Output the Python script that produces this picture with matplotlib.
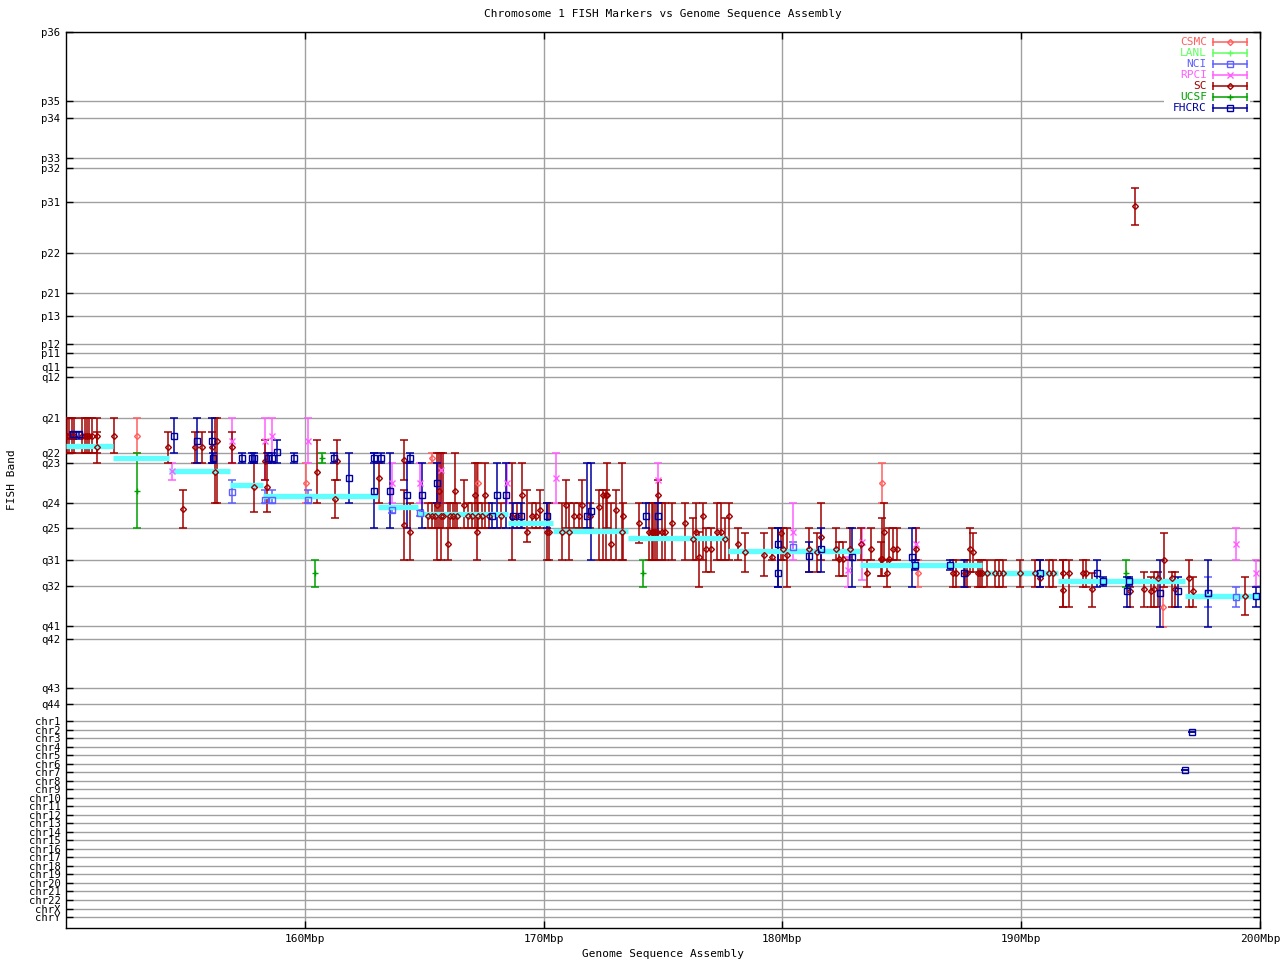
# Chromosome 1 FISH markers vs genome sequence assembly
import matplotlib
matplotlib.use('Agg')
import matplotlib.pyplot as plt
from matplotlib.patches import Rectangle
import numpy as np

# band ticks on the y axis (ideogram coordinate, top -> bottom)
band_names = ['p36', 'p35', 'p34', 'p33', 'p32', 'p31', 'p22', 'p21', 'p13', 'p12',
              'p11', 'q11', 'q12', 'q21', 'q22', 'q23', 'q24', 'q25', 'q31', 'q32',
              'q41', 'q42', 'q43', 'q44',
              'chr1', 'chr2', 'chr3', 'chr4', 'chr5', 'chr6', 'chr7', 'chr8', 'chr9',
              'chr10', 'chr11', 'chr12', 'chr13', 'chr14', 'chr15', 'chr16', 'chr17',
              'chr18', 'chr19', 'chr20', 'chr21', 'chr22', 'chrX', 'chrY']
band_pos = [32, 101, 118, 158, 168, 202, 253, 293, 316, 344,
            353, 367, 377, 418, 453, 463, 503, 528, 560, 586,
            626, 639, 688, 704,
            721, 729.5, 738, 746.6, 755, 763.6, 772, 780.6, 789,
            797.7, 806, 814.7, 823, 831.8, 840, 848.9, 857,
            866, 874, 883, 891, 900, 908.5, 917]

# x ticks (Mbp)
x_ticks = [160, 170, 180, 190, 200]
x_labels = ['160Mbp', '170Mbp', '180Mbp', '190Mbp', '200Mbp']

# assembly band segments (start Mbp, end Mbp, band position)
asm_start = [150.0, 151.97, 154.3, 156.87, 158.25, 163.07, 164.74, 168.51, 170.39,
             173.53, 177.72, 183.25, 188.36, 191.54, 196.86]
asm_end = [151.97, 154.3, 156.87, 158.25, 163.07, 164.74, 168.51, 170.39, 173.53,
           177.72, 183.25, 188.36, 191.54, 196.86, 200.0]
asm_band = [446, 458, 471, 485, 496, 507, 514, 523, 531, 538, 551, 565, 573, 581, 596]

# FISH markers per source: (Mbp, band, band low, band high)
csmc = [(152.97, 436, 418, 453), (160.05, 483, 463, 503), (165.33, 458, 453, 463),
        (167.25, 483, 463, 503), (184.17, 483, 463, 503), (185.68, 573, 560, 587),
        (195.94, 607, 587, 627)]

lanl = []

nci = [(156.95, 492, 480, 503), (158.33, 500, 490, 503), (158.63, 500, 490, 503),
       (160.13, 500, 490, 503), (163.65, 510, 507, 513), (164.82, 513, 510, 516),
       (180.44, 547, 542, 553), (197.82, 593, 577, 607), (199.0, 597, 587, 607)]

rpci = [(154.44, 471, 463, 480), (156.95, 441, 418, 463), (158.33, 441, 418, 480),
        (158.63, 436, 418, 463), (160.13, 441, 418, 463), (163.65, 483, 463, 503),
        (164.82, 483, 463, 503), (165.7, 470, 453, 503), (168.47, 483, 463, 503),
        (170.52, 478, 453, 503), (174.79, 480, 463, 503), (180.44, 532, 503, 560),
        (182.75, 570, 557, 587), (183.33, 542, 528, 580), (185.6, 544, 528, 560),
        (199.0, 544, 528, 560), (199.83, 573, 560, 587)]

sc = [(150.04, 436, 418, 453), (150.13, 436, 418, 453), (150.25, 436, 418, 453),
      (150.33, 436, 418, 453), (150.67, 436, 418, 453), (150.80, 436, 418, 453),
      (150.88, 436, 418, 453), (150.96, 436, 418, 453), (151.09, 436, 418, 453),
      (151.30, 436, 418, 453), (151.30, 447, 432, 463), (152.00, 436, 418, 453),
      (154.27, 447, 432, 463), (154.90, 509, 490, 528), (155.40, 447, 432, 463),
      (155.70, 447, 432, 463), (156.11, 447, 432, 463), (156.24, 472, 418, 503),
      (156.32, 441, 418, 503), (156.95, 447, 432, 463), (157.87, 487, 463, 512),
      (158.33, 461, 440, 480), (158.42, 487, 453, 512), (160.51, 472, 440, 503),
      (161.26, 499, 480, 518), (161.35, 461, 440, 480),
      (163.10, 478, 463, 503), (164.15, 460, 440, 480), (164.15, 525, 490, 560),
      (164.40, 532, 503, 560), (165.54, 505, 453, 560), (165.62, 491, 453, 528),
      (165.70, 516, 453, 560), (165.79, 516, 453, 528), (166.00, 544, 503, 560),
      (166.29, 491, 453, 528), (166.67, 505, 480, 528), (167.13, 495, 463, 528),
      (167.21, 532, 463, 560), (167.55, 495, 463, 528),
      (165.16, 516, 503, 528), (165.33, 516, 503, 528), (165.45, 516, 503, 528),
      (166.08, 516, 503, 528), (166.21, 516, 503, 528), (166.37, 516, 503, 528),
      (166.83, 516, 503, 528), (167.00, 516, 503, 528), (167.25, 516, 503, 528),
      (167.42, 516, 503, 528), (167.70, 516, 503, 528), (168.20, 516, 503, 528),
      (168.90, 516, 503, 528), (169.50, 516, 503, 528),
      (168.68, 517, 463, 560), (169.10, 495, 463, 528), (169.30, 532, 490, 542),
      (169.68, 516, 503, 528), (169.85, 510, 490, 528), (170.14, 532, 503, 560),
      (170.23, 532, 503, 560), (170.77, 532, 503, 560), (170.94, 505, 480, 528),
      (171.06, 532, 503, 560), (171.27, 516, 503, 528), (171.48, 516, 503, 528),
      (171.60, 505, 480, 528), (171.94, 516, 503, 528), (172.32, 507, 490, 560),
      (172.49, 495, 490, 560), (172.61, 495, 490, 560), (172.65, 495, 463, 528),
      (172.82, 544, 503, 560), (173.03, 510, 490, 560), (173.28, 532, 463, 560),
      (173.32, 516, 503, 560), (174.00, 523, 503, 543), (174.41, 532, 503, 560),
      (174.58, 532, 503, 560), (174.75, 532, 503, 560),
      (174.54, 532, 503, 560), (174.66, 532, 503, 560), (174.96, 532, 503, 560),
      (175.08, 532, 503, 560), (174.79, 495, 480, 503), (175.38, 523, 503, 560),
      (175.92, 523, 503, 560), (176.26, 539, 518, 560), (176.38, 532, 503, 560),
      (176.51, 557, 532, 587), (176.68, 516, 503, 560), (176.80, 549, 528, 572),
      (177.01, 549, 528, 572), (177.26, 532, 503, 560), (177.43, 532, 503, 560),
      (177.60, 539, 518, 560), (177.76, 516, 503, 560), (178.14, 544, 528, 560),
      (178.43, 552, 533, 572), (179.23, 555, 533, 576), (179.56, 557, 528, 560),
      (179.94, 533, 528, 560), (180.03, 549, 528, 560), (180.19, 555, 528, 587),
      (181.11, 549, 528, 572), (181.45, 552, 533, 572), (181.62, 537, 503, 560),
      (182.24, 549, 528, 560), (182.37, 559, 542, 576), (182.54, 559, 542, 576),
      (182.83, 549, 528, 560), (183.29, 544, 528, 560), (183.54, 573, 560, 587),
      (183.71, 549, 528, 560), (184.13, 559, 542, 576), (184.17, 559, 518, 576),
      (184.25, 532, 503, 560), (184.38, 573, 560, 587), (184.46, 559, 528, 560),
      (184.63, 549, 528, 560), (184.80, 549, 528, 560), (185.60, 549, 528, 560),
      (187.14, 573, 560, 587), (187.27, 573, 560, 587), (187.65, 573, 560, 587),
      (187.73, 573, 560, 587),
      (187.86, 549, 528, 572), (187.98, 552, 533, 572), (188.19, 573, 560, 587),
      (188.27, 573, 560, 587), (188.36, 573, 560, 587), (188.57, 573, 560, 587),
      (188.90, 573, 560, 587), (189.07, 573, 560, 587), (189.24, 573, 560, 587),
      (189.95, 573, 560, 587), (190.58, 573, 560, 587), (190.79, 578, 560, 587),
      (191.16, 573, 560, 587), (191.33, 573, 560, 587), (191.75, 573, 560, 607),
      (191.75, 590, 560, 607), (192.00, 573, 560, 607), (192.59, 573, 560, 587),
      (192.71, 573, 560, 587), (192.96, 589, 573, 607), (194.56, 591, 587, 607),
      (195.14, 589, 572, 607), (195.44, 591, 577, 607), (195.56, 589, 572, 607),
      (195.73, 578, 572, 607), (195.98, 560, 533, 587), (196.31, 578, 572, 607),
      (196.44, 589, 572, 607), (197.03, 578, 560, 607), (197.19, 591, 577, 607),
      (199.37, 596, 577, 615), (194.77, 206, 188, 225)]

ucsf = [(152.97, 491, 453, 528), (160.43, 573, 560, 587), (160.72, 458, 453, 463),
        (174.16, 573, 560, 587), (194.39, 573, 560, 587)]

fhcrc = [(150.29, 434, 432, 439), (150.54, 434, 432, 439), (154.52, 436, 418, 453),
         (155.49, 441, 418, 463), (156.11, 441, 418, 463), (156.16, 458, 453, 463),
         (157.37, 458, 453, 463), (157.79, 458, 453, 463), (157.87, 458, 453, 463),
         (158.46, 458, 453, 463), (158.63, 458, 453, 463), (158.84, 452, 440, 463),
         (159.55, 458, 453, 463), (161.22, 458, 453, 463), (161.85, 478, 453, 503),
         (162.90, 458, 453, 463), (162.90, 491, 453, 528), (163.19, 458, 453, 463),
         (163.57, 491, 453, 528), (164.28, 495, 463, 528), (164.40, 458, 453, 463),
         (164.91, 495, 463, 528), (165.54, 483, 463, 503), (167.84, 516, 503, 528),
         (168.05, 495, 463, 528), (168.43, 495, 463, 528), (168.72, 516, 503, 528),
         (169.05, 516, 503, 528), (170.14, 516, 503, 528), (171.82, 516, 463, 528),
         (171.99, 511, 463, 560), (174.29, 516, 503, 528), (174.79, 516, 503, 540),
         (179.82, 544, 528, 587), (179.82, 573, 528, 587), (181.11, 556, 542, 572),
         (181.62, 549, 528, 572), (182.92, 557, 528, 587), (185.43, 557, 528, 587),
         (185.56, 565, 560, 570), (187.02, 565, 560, 570), (187.60, 573, 560, 587),
         (190.79, 573, 560, 587), (193.17, 573, 560, 587), (193.43, 581, 577, 586),
         (194.43, 591, 577, 607), (194.52, 581, 577, 586), (195.81, 593, 560, 627),
         (196.57, 591, 577, 607), (197.82, 593, 560, 627), (199.83, 596, 587, 607),
         (197.15, 732, 732, 732), (196.86, 770, 770, 770)]

sources = ['CSMC', 'LANL', 'NCI', 'RPCI', 'SC', 'UCSF', 'FHCRC']
data = [csmc, lanl, nci, rpci, sc, ucsf, fhcrc]
colors = ['#ff5f5f', '#5fff5f', '#5f5fff', '#ff5fff', '#a00000', '#00a000', '#0000a0']
markers = ['D', '+', 's', 'x', 'D', '+', 's']
msizes = [3, 5, 5, 4.5, 3, 5, 5]

plt.rcParams['font.family'] = 'DejaVu Sans Mono'
plt.rcParams['font.size'] = 8

fig = plt.figure(figsize=(12.8, 9.6), dpi=100)
ax = fig.add_axes([66 / 1280, 32 / 960, 1194 / 1280, 896 / 960])

ax.set_xlim(150, 200)
ax.set_ylim(928, 32)

# grid
for y in band_pos:
    ax.axhline(y, color='#a0a0a0', lw=1, zorder=1)
for x in x_ticks[:-1]:
    ax.axvline(x, color='#a0a0a0', lw=1, zorder=1)

# error bars
for pts, c in zip(data, colors):
    if not pts:
        continue
    arr = np.array(pts, dtype=float)
    xs, ys, lo, hi = arr[:, 0], arr[:, 1], arr[:, 2], arr[:, 3]
    ax.errorbar(xs, ys, yerr=[ys - lo, hi - ys], fmt='none', ecolor=c,
                elinewidth=1.1, capsize=3, capthick=1.1, zorder=3)

# assembly position
for s, e, b in zip(asm_start, asm_end, asm_band):
    ax.plot([s, e], [b, b], color='#5fffff', lw=3.8, solid_capstyle='butt', zorder=4)

# markers on top
for pts, c, m, ms in zip(data, colors, markers, msizes):
    if not pts:
        continue
    arr = np.array(pts, dtype=float)
    ax.plot(arr[:, 0], arr[:, 1], linestyle='none', marker=m, ms=ms, mfc='none',
            mec=c, mew=1.0, zorder=5)

ax.set_yticks(band_pos)
ax.set_yticklabels(band_names, fontsize=7.6)
ax.set_xticks(x_ticks)
ax.set_xticklabels(x_labels)
ax.tick_params(direction='in', length=5, width=1, right=True, top=True,
               labelsize=8, pad=4)
ax.tick_params(axis='y', labelsize=7.6)
for sp in ax.spines.values():
    sp.set_linewidth(1)

ax.set_title('Chromosome 1 FISH Markers vs Genome Sequence Assembly', fontsize=8, pad=11)
ax.set_xlabel('Genome Sequence Assembly', fontsize=8, labelpad=4)
fig.text(12 / 1280, 1 - 480 / 960, 'FISH Band', rotation=90, ha='center', va='center',
         fontsize=8)

# legend (gnuplot style: label, then error bar sample)
ax.add_patch(Rectangle((0.92, 0.912), 0.0715, 0.084, transform=ax.transAxes,
                       facecolor='white', edgecolor='none', zorder=6))
for i, (name, c, m, ms) in enumerate(zip(sources, colors, markers, msizes)):
    yy = 1 - (10 + 11 * i) / 896
    ax.text(0.9556, yy, name, color=c, ha='right', va='center',
            transform=ax.transAxes, fontsize=8, zorder=7)
    ax.plot([0.9606, 0.9891], [yy, yy], color=c, lw=1.1, transform=ax.transAxes,
            zorder=7, clip_on=False)
    ax.plot([0.9606, 0.9891], [yy, yy], linestyle='none', marker='|', ms=6, mew=1.1,
            color=c, transform=ax.transAxes, zorder=7, clip_on=False)
    ax.plot([0.975], [yy], linestyle='none', marker=m, ms=ms, mfc='none', mec=c,
            mew=1.0, transform=ax.transAxes, zorder=8, clip_on=False)

fig.savefig('out.png', dpi=100)
